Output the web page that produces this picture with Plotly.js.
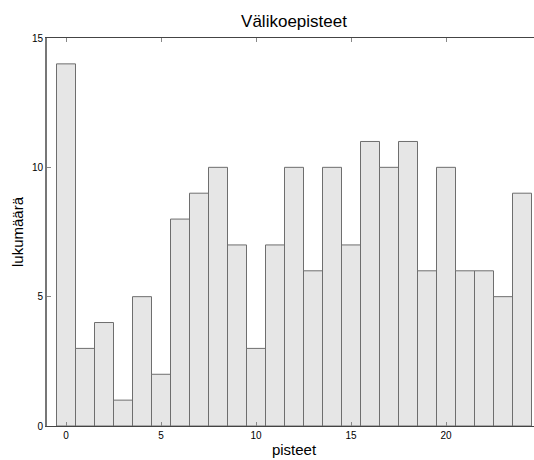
<!DOCTYPE html>
<html>
<head>
<meta charset="utf-8">
<script src="https://cdn.plot.ly/plotly-3.0.1.min.js"></script>
<style>
html,body{margin:0;padding:0;overflow:hidden;background:#fff;}
#chart{width:600px;height:460px;}
</style>
</head>
<body>
<div id="chart"></div>
<script>
const points = [0,1,2,3,4,5,6,7,8,9,10,11,12,13,14,15,16,17,18,19,20,21,22,23,24];
const counts = [14,3,4,1,5,2,8,9,10,7,3,7,10,6,10,7,11,10,11,6,10,6,6,5,9];
const xTicks = [0,5,10,15,20,25];
const yTicks = [0,5,10,15];

const trace = {
  type: 'bar',
  x: points,
  y: counts,
  width: 1,
  marker: {color: '#e6e6e6', line: {color: '#6e6e6e', width: 1}},
  hoverinfo: 'x+y'
};

const layout = {
  width: 600,
  height: 460,
  margin: {l: 47, r: 59, t: 38, b: 34},
  paper_bgcolor: '#fff',
  plot_bgcolor: '#fff',
  showlegend: false,
  bargap: 0,
  font: {family: 'Liberation Sans, Arial, sans-serif', color: '#000'},
  title: {text: 'Välikoepisteet', font: {size: 17, color: '#000'}, x: 0.5, xref: 'paper', y: 1, yref: 'paper', yanchor: 'bottom', pad: {b: 11}},
  xaxis: {
    range: [-1, 25],
    tickvals: xTicks,
    ticktext: xTicks.map(String),
    ticks: 'inside', ticklen: 4, tickcolor: '#888', tickwidth: 1,
    showline: true, linecolor: '#444', linewidth: 1, mirror: 'ticks',
    showgrid: false, zeroline: false,
    tickfont: {size: 10},
    title: {text: 'pisteet', font: {size: 15}, standoff: 4}
  },
  yaxis: {
    range: [0, 15],
    tickvals: yTicks,
    ticktext: yTicks.map(String),
    ticks: 'inside', ticklen: 4, tickcolor: '#888', tickwidth: 1,
    showline: true, linecolor: '#777', linewidth: 2, mirror: 'ticks',
    showgrid: false, zeroline: false,
    tickfont: {size: 10},
    title: {text: 'lukumäärä', font: {size: 15}, standoff: 5}
  }
};

Plotly.newPlot('chart', [trace], layout, {displayModeBar: false, staticPlot: true});
</script>
</body>
</html>
